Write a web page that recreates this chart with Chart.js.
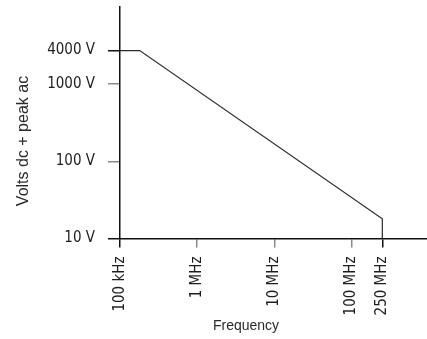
<!DOCTYPE html>
<html><head><meta charset="utf-8">
<script src="https://cdn.jsdelivr.net/npm/chart.js@4/dist/chart.umd.min.js"></script>
<style>html,body{margin:0;padding:0;background:#fff}#wrap{width:427px;height:339px;position:relative}</style>
</head><body><div id="wrap"><canvas id="c"></canvas></div>
<script>
// ---- data ----
const frequencies = [1e5, 1.8e5, 2.5e8, 2.5e8];   // Hz
const voltages    = [4000, 4000, 18, 10];         // V
const xTickValues = [1e5, 1e6, 1e7, 1e8, 2.5e8];
const xTickLabels = ['100 kHz', '1 MHz', '10 MHz', '100 MHz', '250 MHz'];
const yTickValues = [10, 100, 1000, 4000];
const yTickLabels = ['10 V', '100 V', '1000 V', '4000 V'];
const xTitle = 'Frequency';
const yTitle = 'Volts dc + peak ac';

// The reference's vertical axis is log by decade, with the section above 1000 V compressed
const UPPER_COMPRESSION = 0.7227;
class WarpedLogScale extends Chart.LogarithmicScale {
  warp(v) { const l = Math.log10(v); return l <= 3 ? l : 3 + (l - 3) * UPPER_COMPRESSION; }
  unwarp(w) { return w <= 3 ? Math.pow(10, w) : Math.pow(10, 3 + (w - 3) / UPPER_COMPRESSION); }
  getPixelForValue(value) {
    if (value === undefined || value === 0) value = this.min;
    if (value === null || isNaN(value)) return NaN;
    const a = this.warp(this.min), b = this.warp(this.max);
    return this.getPixelForDecimal((this.warp(value) - a) / (b - a));
  }
  getValueForPixel(pixel) {
    const a = this.warp(this.min), b = this.warp(this.max);
    return this.unwarp(a + this.getDecimalForPixel(pixel) * (b - a));
  }
}
WarpedLogScale.id = 'warpedLog';
WarpedLogScale.defaults = Chart.LogarithmicScale.defaults;
Chart.register(WarpedLogScale);

const LABEL_FONT = '"DejaVu Sans Condensed", "DejaVu Sans", sans-serif';
const TITLE_FONT = '"Liberation Sans", Arial, sans-serif';

const condensedText = {
  id: 'condensedText',
  beforeDraw(chart) { if ('fontStretch' in chart.ctx) chart.ctx.fontStretch = 'condensed'; }
};

const axisTitles = {
  id: 'axisTitles',
  afterDraw(chart) {
    const ctx = chart.ctx;
    ctx.save();
    if ('fontStretch' in ctx) ctx.fontStretch = 'normal';
    ctx.fillStyle = '#2a2a2a';
    ctx.textAlign = 'center';
    ctx.textBaseline = 'middle';
    ctx.font = '14px ' + TITLE_FONT;
    ctx.fillText(xTitle, 246, 326);
    ctx.translate(24, 141);
    ctx.rotate(-Math.PI / 2);
    ctx.font = '16px ' + TITLE_FONT;
    ctx.fillText(yTitle, 0, 0);
    ctx.restore();
  }
};

const darkTickX = v => v === xTickValues[0] || v === xTickValues[xTickValues.length - 1];
const darkTickY = v => v === yTickValues[0] || v === yTickValues[yTickValues.length - 1];

new Chart(document.getElementById('c'), {
  type: 'line',
  data: {
    datasets: [{
      data: frequencies.map((f, i) => ({ x: f, y: voltages[i] })),
      borderColor: '#2b2b2b',
      borderWidth: 1.2,
      pointRadius: 0,
      tension: 0,
      fill: false,
      clip: false
    }]
  },
  options: {
    responsive: true,
    maintainAspectRatio: false,
    animation: false,
    layout: { padding: { top: 7, right: 0, left: 0, bottom: 0 } },
    plugins: { legend: { display: false }, tooltip: { enabled: false } },
    scales: {
      x: {
        type: 'logarithmic',
        min: 1e5,
        max: 9.48e8,
        afterBuildTicks: s => { s.ticks = xTickValues.map(v => ({ value: v })); },
        afterFit: s => { s.height = 100.5; s.paddingLeft = 0; s.paddingRight = 0; },
        ticks: {
          autoSkip: false,
          minRotation: 90,
          maxRotation: 90,
          padding: 9,
          color: '#1e1e1e',
          font: { family: LABEL_FONT, size: 15 },
          callback: v => xTickLabels[xTickValues.indexOf(v)]
        },
        grid: {
          drawOnChartArea: false,
          drawTicks: true,
          tickLength: 9,
          lineWidth: 1.5,
          color: c => (c.tick && darkTickX(c.tick.value)) ? '#111' : '#8a8a8a',
          tickColor: c => (c.tick && darkTickX(c.tick.value)) ? '#111' : '#8a8a8a'
        },
        border: { display: true, color: '#111', width: 1.5 }
      },
      y: {
        type: 'warpedLog',
        min: 10,
        max: 24200,
        afterBuildTicks: s => { s.ticks = yTickValues.map(v => ({ value: v })); },
        afterFit: s => { s.width = 120; s.paddingTop = 0; s.paddingBottom = 0; },
        ticks: {
          autoSkip: false,
          padding: 13,
          color: '#1e1e1e',
          font: { family: LABEL_FONT, size: 15 },
          callback: v => yTickLabels[yTickValues.indexOf(v)]
        },
        grid: {
          drawOnChartArea: false,
          drawTicks: true,
          tickLength: 12,
          lineWidth: 1.5,
          color: c => (c.tick && darkTickY(c.tick.value)) ? '#111' : '#8a8a8a',
          tickColor: c => (c.tick && darkTickY(c.tick.value)) ? '#111' : '#8a8a8a'
        },
        border: { display: true, color: '#111', width: 1.5 }
      }
    }
  },
  plugins: [condensedText, axisTitles]
});
</script>
</body></html>
